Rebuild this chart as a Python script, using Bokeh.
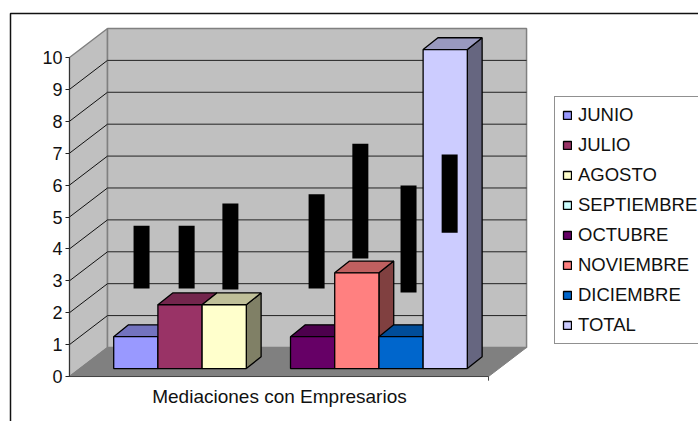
from bokeh.plotting import figure
from bokeh.embed import file_html
from bokeh.resources import INLINE
from bokeh.models import Legend, LegendItem, BoxAnnotation, Range1d, FixedTicker, LinearAxis
from bokeh.core.properties import value

months = ["JUNIO", "JULIO", "AGOSTO", "SEPTIEMBRE", "OCTUBRE", "NOVIEMBRE", "DICIEMBRE", "TOTAL"]
counts = [1, 2, 2, 0, 1, 3, 1, 10]
colors = ["#9999FF", "#993366", "#FFFFCC", "#CCFFFF", "#660066", "#FF8080", "#0066CC", "#CCCCFF"]
tops = ["#7373BF", "#73264D", "#BFBF99", "#99BFBF", "#4D004D", "#BF6060", "#004D99", "#9999BF"]
sides = ["#666680", "#4D1A33", "#808066", "#668080", "#330033", "#804040", "#003366", "#666680"]
y_ticks = list(range(0, 11))
mask_x = [1.63, 2.65, 3.64, 5.59, 6.58, 7.67, 8.60]
mask_low = [2.76, 2.76, 2.73, 2.76, 3.70, 2.63, 4.51]
mask_high = [4.73, 4.73, 5.42, 5.71, 7.30, 5.99, 6.96]
category = "Mediaciones con Empresarios"

FONT = "Liberation Sans"
Y_MAX = 10
X_END = 9.48          # length of the category axis, in bar widths
WALL_DX, WALL_DY = 0.86, 0.91
BAR_DX, BAR_DY = 0.335, 0.37
BAR_Y0 = 0.25
BAR_X0 = 1.0
MASK_W = 0.362
NAN = float("nan")

p = figure(width=698, height=421, output_backend="svg", toolbar_location=None,
           x_range=Range1d(-1.561, 14.23), y_range=Range1d(-1.41, 11.787),
           x_axis_type=None, y_axis_location=None, min_border=0)
p.grid.visible = False
p.outline_line_color = None
p.background_fill_color = "white"
p.border_fill_color = "white"

# walls and floor
wall = "#C0C0C0"
edge = "#808080"
p.patch([0, WALL_DX, WALL_DX, 0], [0, WALL_DY, Y_MAX + WALL_DY, Y_MAX],
        fill_color=wall, line_color=edge, line_width=1.5)
p.patch([WALL_DX, X_END + WALL_DX, X_END + WALL_DX, WALL_DX],
        [WALL_DY, WALL_DY, Y_MAX + WALL_DY, Y_MAX + WALL_DY],
        fill_color=wall, line_color=edge, line_width=1.5)
p.patch([0, WALL_DX, X_END + WALL_DX, X_END], [0, WALL_DY, WALL_DY, 0],
        fill_color=edge, line_color=edge, line_width=1)

# gridlines
levels = y_ticks[1:-1]
p.segment([0] * len(levels), levels, [WALL_DX] * len(levels), [v + WALL_DY for v in levels],
          line_color="#111111", line_width=1)
p.segment([WALL_DX] * len(levels), [v + WALL_DY for v in levels],
          [X_END + WALL_DX] * len(levels), [v + WALL_DY for v in levels],
          line_color="#222222", line_width=1)

# category axis
p.segment([0], [0], [X_END], [0], line_color="#444444", line_width=1)
p.segment([X_END], [0], [X_END], [-0.13], line_color="#444444", line_width=1)
p.text([4.75], [-0.63], text=[category], text_font=value(FONT), text_font_size="19px",
       text_align="center", text_baseline="middle", text_color="#111111")

# bars
legend_items = []
for i, (m, v, c, t, s) in enumerate(zip(months, counts, colors, tops, sides)):
    x0 = BAR_X0 + i
    x1 = x0 + 1
    y0 = BAR_Y0
    y1 = y0 + v
    if v > 0:
        p.patch([x1, x1 + BAR_DX, x1 + BAR_DX, x1], [y0, y0 + BAR_DY, y1 + BAR_DY, y1],
                fill_color=s, line_color="black", line_width=1.3)
        p.patch([x0, x1, x1 + BAR_DX, x0 + BAR_DX], [y1, y1, y1 + BAR_DY, y1 + BAR_DY],
                fill_color=t, line_color="black", line_width=1.3)
    r = p.quad(left=[x0], right=[x1],
               bottom=[y0 if v > 0 else NAN], top=[y1 if v > 0 else NAN],
               fill_color=c, line_color="black", line_width=1.3)
    legend_items.append(LegendItem(label=m, renderers=[r]))

# blacked-out labels
p.vbar(x=mask_x, width=MASK_W, bottom=mask_low, top=mask_high, fill_color="black", line_color=None)

# value axis at x = 0, drawn inside the frame
ax = LinearAxis(fixed_location=0, ticker=FixedTicker(ticks=y_ticks), bounds=(0, Y_MAX))
ax.major_tick_in = 0
ax.major_tick_out = 4
ax.minor_tick_line_color = None
ax.major_label_standoff = 3
ax.axis_line_color = "#333333"
ax.major_tick_line_color = "#222222"
ax.major_label_text_font = FONT
ax.major_label_text_font_size = "18px"
ax.major_label_text_color = "#111111"
p.add_layout(ax, "left")

legend = Legend(items=legend_items, location=(554, 77), orientation="vertical",
                padding=7, margin=0, spacing=8, label_height=20, glyph_width=10, glyph_height=10,
                label_standoff=6, label_text_font=FONT, label_text_font_size="18.5px",
                label_text_color="#111111", border_line_color="#222222", border_line_width=1,
                background_fill_color="white", background_fill_alpha=1)
p.add_layout(legend)

# chart area border
p.add_layout(BoxAnnotation(left=10, right=900, top=13, bottom=600, left_units="canvas",
                           right_units="canvas", top_units="canvas", bottom_units="canvas",
                           fill_alpha=0, line_color="#111111", line_alpha=1, line_width=1.5,
                           level="overlay"))

open("out.html", "w").write(file_html(p, INLINE))
